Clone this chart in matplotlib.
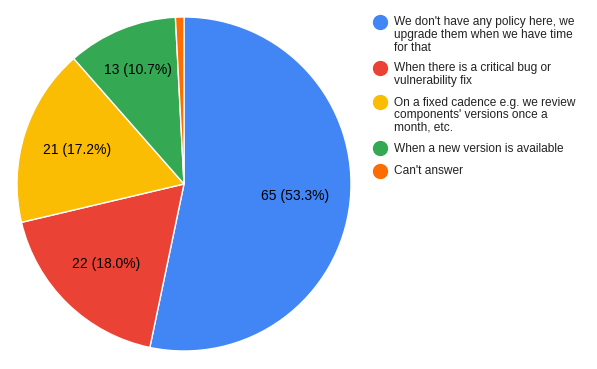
import matplotlib
matplotlib.use('Agg')
import matplotlib.pyplot as plt

plt.rcParams['font.family'] = ['Liberation Sans', 'DejaVu Sans']

# Survey answers
labels = [
    "We don't have any policy here, we\nupgrade them when we have time\nfor that",
    "When there is a critical bug or\nvulnerability fix",
    "On a fixed cadence e.g. we review\ncomponents' versions once a\nmonth, etc.",
    "When a new version is available",
    "Can't answer",
]
counts = [65, 22, 21, 13, 1]
colors = ["#4285F4", "#EA4335", "#FBBC04", "#34A853", "#FF6D01"]

total = sum(counts)


def fmt(pct):
    n = int(round(pct * total / 100.0))
    if pct < 3:
        return ""
    return f"{n} ({pct:.1f}%)"


W, H = 597, 369
fig = plt.figure(figsize=(W / 100, H / 100), dpi=100)
ax = fig.add_axes([(184 - 167) / W, (H - 184 - 167) / H, 334 / W, 334 / H])
wedges, texts, autotexts = ax.pie(
    counts, colors=colors, startangle=90, counterclock=False,
    autopct=fmt, pctdistance=0.67,
    wedgeprops=dict(edgecolor="white", linewidth=1),
    textprops=dict(fontsize=10, color="#000000"))
ax.set_xlim(-1, 1)
ax.set_ylim(-1, 1)
ax.set_aspect("equal")
# smaller slices get their label pushed a bit further out
for t, c in zip(autotexts, counts):
    if c / total < 0.12:
        x, y = t.get_position()
        t.set_position((x * 0.735 / 0.67, y * 0.735 / 0.67))

# legend drawn by hand so the dot lines up with the first text line
line_h = 11.7
gap = 10.8
y = 22
for lab, c in zip(labels, colors):
    fig.text(394 / W, 1 - (y - 5.5) / H, lab, fontsize=8.6, va="top", ha="left",
             linespacing=1.06, color="#222222")
    fig.lines.append(plt.Line2D([380 / W], [1 - y / H], marker="o", markersize=10,
                                color=c, transform=fig.transFigure))
    y += line_h * (lab.count("\n") + 1) + gap

fig.savefig("out.png", dpi=100)
